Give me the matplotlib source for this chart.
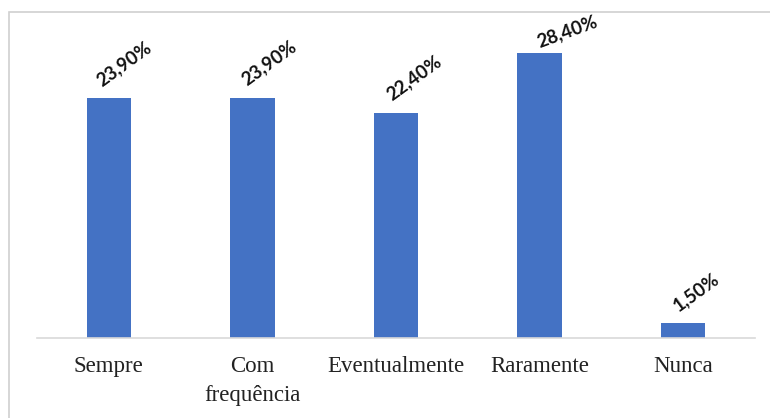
import matplotlib.pyplot as plt
from matplotlib.patches import Rectangle

categorias = ["Sempre", "Com\nfrequência", "Eventualmente", "Raramente", "Nunca"]
valores = [23.9, 23.9, 22.4, 28.4, 1.5]
rotulos = ["23,90%", "23,90%", "22,40%", "28,40%", "1,50%"]

# rotacao e deslocamento de cada rotulo (o de 28,40% fica mais deitado)
rotacoes = [36, 36, 36, 20, 36]
desloc = [(-5, 8), (-4, 9), (-3, 9), (0, 4), (-4, 8)]

fig = plt.figure(figsize=(7.7, 4.18), dpi=100)
fig.patch.set_facecolor("white")

# moldura cinza clara (cortada a direita e embaixo)
fig.patches.append(Rectangle((9 / 770, -0.05), 1.0, (418 - 12) / 418 + 0.05,
                             transform=fig.transFigure, fill=False,
                             edgecolor="#d0d0d0", lw=1.2))

ax = fig.add_axes([37 / 770, 80 / 418, 718 / 770, 301 / 418])
x = range(len(categorias))
ax.bar(x, valores, width=0.31, color="#4472C4")
ax.set_xlim(-0.5, 4.5)
ax.set_ylim(0, 30)

for i, (v, r) in enumerate(zip(valores, rotulos)):
    ax.annotate(r, (i, v), xytext=desloc[i], textcoords="offset points",
                rotation=rotacoes[i], rotation_mode="anchor", ha="left", va="baseline",
                fontsize=13.5, fontweight="bold", family="Lato", color="#111111",
                annotation_clip=False)

ax.set_xticks(list(x))
ax.set_xticklabels(categorias, family="Liberation Serif", fontsize=16.5,
                   color="#222222", linespacing=1.5, va="top")
ax.tick_params(axis="x", length=0, pad=13)
ax.set_yticks([])
for s in ["top", "right", "left"]:
    ax.spines[s].set_visible(False)
ax.spines["bottom"].set_color("#d9d9d9")
ax.spines["bottom"].set_linewidth(1.2)

fig.savefig("out.png", dpi=100)
